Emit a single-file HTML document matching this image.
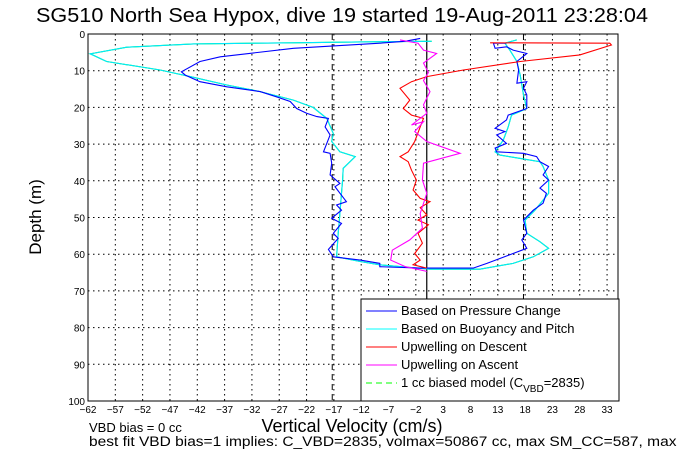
<!DOCTYPE html>
<html><head><meta charset="utf-8"><style>
html,body{margin:0;padding:0;background:#fff;overflow:hidden;}
svg{display:block;font-family:"Liberation Sans",sans-serif;}
</style></head><body>
<svg id="chart" width="681" height="454" viewBox="0 0 681 454" xmlns="http://www.w3.org/2000/svg">
<rect x="0" y="0" width="681" height="454" fill="#fff"/>
<text x="342" y="22" font-size="20.5" text-anchor="middle" textLength="612" lengthAdjust="spacingAndGlyphs">SG510 North Sea Hypox, dive 19 started 19-Aug-2011 23:28:04</text>
<g id="grid"></g>
<g id="series"></g>
<rect x="88" y="34" width="530" height="367" fill="none" stroke="#000" stroke-width="1"/>
<g id="ticks" font-size="10"></g>
<text transform="translate(41,217) rotate(-90)" font-size="17" text-anchor="middle">Depth (m)</text>
<text x="352" y="432" font-size="18" text-anchor="middle">Vertical Velocity (cm/s)</text>
<text x="89" y="432" font-size="13">VBD bias = 0 cc</text>
<text x="89" y="446" font-size="13.5" textLength="615" lengthAdjust="spacingAndGlyphs">best fit VBD bias=1 implies: C_VBD=2835, volmax=50867 cc, max SM_CC=587, max MA</text>
<g id="legend">
<rect x="361" y="299" width="258" height="102" fill="#fff" stroke="#000" stroke-width="1"/>
<g font-size="13">
<line x1="366" y1="311" x2="397" y2="311" stroke="#0000ff"/><text x="401" y="315">Based on Pressure Change</text>
<line x1="366" y1="329" x2="397" y2="329" stroke="#00ffff"/><text x="401" y="333">Based on Buoyancy and Pitch</text>
<line x1="366" y1="347" x2="397" y2="347" stroke="#ff0000"/><text x="401" y="351">Upwelling on Descent</text>
<line x1="366" y1="365" x2="397" y2="365" stroke="#ff00ff"/><text x="401" y="369">Upwelling on Ascent</text>
<line x1="366" y1="383" x2="397" y2="383" stroke="#00ff00" stroke-dasharray="6,4"/><text x="401" y="387">1 cc biased model (C<tspan font-size="10" dy="5">VBD</tspan><tspan dy="-5">=2835)</tspan></text>
</g></g>
</svg>
<script>
const xTicks=[-62,-57,-52,-47,-42,-37,-32,-27,-22,-17,-12,-7,-2,3,8,13,18,23,28,33];
const yTicks=[0,10,20,30,40,50,60,70,80,90,100];
const modelLines=[-17.3,17.7];
const zeroLine=[0];
const pressureX=[-1.2,-4,-8.6,-24.4,-37.8,-41.5,-44.9,-44.2,-41.5,-36.6,-30.5,-27.5,-25.0,-23.8,-22.0,-20.1,-18.0,-18.6,-17.7,-18.9,-17.7,-17.4,-17.7,-15.9,-16.8,-14.7,-16.5,-15.6,-17.4,-15.6,-17.1,-16.2,-18.0,-17.1,-12.2,-8.6,-8.6,-1.2,8.5,11.0,15.8,18.3,17.4,18.3,17.7,19.5,21.3,21.9,20.7,22.3,21.3,22.3,20.7,20.1,17.7,12.8,12.5,14.6,12.8,14.3,12.5,14.6,14.9,18.3,18.3,17.7,18.3,16.5,16.8,16.5,18.3,15.8,14.6,12.5,12.2,14.6];
const pressureD=[1.2,2.0,2.5,3.9,6.2,7.5,10.3,11.2,13.0,14.4,15.7,17.1,18.4,20.3,21.6,22.5,23.0,25.3,27.5,32.1,32.5,35.2,38.4,40.7,41.6,45.7,46.6,48.0,50.2,51.6,54.3,55.7,58.7,60.7,61.6,62.5,63.4,63.8,63.8,62.5,59.8,58.4,56.1,54.3,50.7,48.0,46.1,43.4,42.0,39.8,38.4,36.1,34.8,33.4,32.5,32.1,31.1,29.8,27.5,26.6,25.7,23.4,22.1,20.3,16.6,14.8,13.0,13.4,9.8,7.5,5.3,4.4,3.5,3.9,2.5,2.5];
const buoyX=[0.9,-8.6,-24.4,-42.7,-54.9,-61.6,-58.6,-48.8,-42.7,-36.6,-30.5,-24.4,-20.8,-18.3,-17.1,-17.4,-15.9,-13.1,-15.3,-15.4,-15.6,-15.9,-16.2,-16.5,-12.2,-8.6,0.6,9.7,15.8,19.5,22.3,20.7,18.3,18.0,19.8,22.3,22.3,21.3,20.7,17.1,13.4,12.5,14.0,14.9,15.5,18.3,17.7,17.1,16.5,15.2,14.3,16.5];
const buoyD=[2.0,2.1,2.4,2.7,3.6,5.4,7.5,9.8,11.8,13.9,15.7,18.0,20.0,23.0,27.1,29.3,32.1,33.4,36.6,39.8,43.4,48.9,54.3,60.7,62.0,62.9,64.1,64.1,62.5,60.7,58.4,56.6,54.3,50.7,48.0,43.4,39.8,36.1,34.8,33.9,33.0,32.1,28.9,25.3,22.1,20.3,16.6,11.2,7.5,4.4,2.5,1.6];
const descentX=[11.6,33.5,33.8,28,17.1,6.7,0,-2.8,-4.9,-3.1,-4.3,-2.8,-0.6,-1.2,-2.2,-3.4,-4.9,-3.4,-2.8,-1.9,-2.5,-1.2,0.6,-1.2,0,-1.6,0.3,-1.6,-0.8,-2.2,-1.2,-2.5,0];
const descentD=[2.4,2.5,3.0,5.7,7.5,9.8,11.6,13,14.8,18,20.3,22.1,23,25.3,29.3,32.1,33.4,34.8,37.1,39.8,42.5,44.8,45.7,47.3,49.3,50.7,52,54.3,57,59.8,61.6,62.9,63.8];
const ascentX=[0,-3.9,-6.6,-6.3,-3.1,-0.8,-1.2,0,-0.8,-0.6,6.1,0,-2.2,-0.6,-2.8,0,-0.6,0.6,-0.6,0.3,-0.6,1.8,-0.6,-1.6,-4.9];
const ascentD=[64.7,63.4,61.6,58.9,56.1,52.9,48.9,43.4,39.8,35.2,32.5,29.3,26.6,23.9,24.8,21.6,19.3,15.7,12.7,10.5,7.9,5.3,4.4,2.5,1.6];

const X0=88,X1=618,Y0=34,Y1=401,XMIN=-62,XMAX=35,DMAX=100;
function sx(v){return X0+(v-XMIN)/(XMAX-XMIN)*(X1-X0);}
function sy(d){return Y0+d/DMAX*(Y1-Y0);}
const NS='http://www.w3.org/2000/svg';
function mk(tag,attrs,parent){const e=document.createElementNS(NS,tag);for(const k in attrs)e.setAttribute(k,attrs[k]);parent.appendChild(e);return e;}
const grid=document.getElementById('grid'),ticks=document.getElementById('ticks'),series=document.getElementById('series');
xTicks.forEach(t=>{
  const gl=mk('line',{x1:sx(t),x2:sx(t),y1:Y0,y2:Y1,stroke:'#000','stroke-dasharray':'1.5,3.5','stroke-width':1},grid);
  
  
  const tl=mk('text',{x:sx(t),y:Y1+12,'text-anchor':'middle'},ticks);
  tl.textContent=(t<0?'\u2212'+(-t):String(t));
  
  
});
yTicks.forEach(t=>{
  const gl=mk('line',{x1:X0,x2:X1,y1:sy(t),y2:sy(t),stroke:'#000','stroke-dasharray':'1.5,3.5','stroke-width':1},grid);
  
  
  const tl=mk('text',{x:X0-3,y:sy(t)+4,'text-anchor':'end'},ticks);
  tl.textContent=String(t);
  
  
});
modelLines.forEach(v=>{
  const l=mk('line',{x1:sx(v),x2:sx(v),y1:Y0,y2:Y1,stroke:'#000','stroke-dasharray':'6,4','stroke-width':1},series);
  
  
});
zeroLine.forEach(v=>{
  const l=mk('line',{x1:sx(v),x2:sx(v),y1:Y0,y2:Y1,stroke:'#000','stroke-width':1.2},series);
  
  
});
function poly(xs,ds,color,name){
  const pts=xs.map((v,i)=>sx(v).toFixed(1)+','+sy(ds[i]).toFixed(1)).join(' ');
  const p=mk('polyline',{points:pts,fill:'none',stroke:color,'stroke-width':1.1},series);
  
  
}
poly(buoyX,buoyD,'#00ff00','buoyancy-series-shadow');
poly(buoyX,buoyD,'#00e8ff','buoyancy-series');
poly(pressureX,pressureD,'#0000ff','pressure-series');
poly(descentX,descentD,'#ff0000','descent-upwelling-series');
poly(ascentX,ascentD,'#ff00ff','ascent-upwelling-series');
</script>
</body></html>
